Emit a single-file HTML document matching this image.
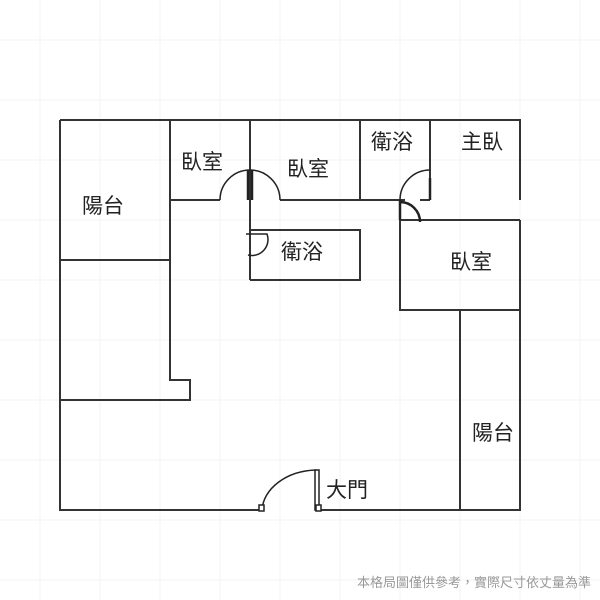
<!DOCTYPE html>
<html><head><meta charset="utf-8"><style>
body{margin:0;background:#fff}
svg{display:block}
text{font-family:"Liberation Sans","Noto Sans CJK TC",sans-serif;fill:#222}
</style></head><body>
<svg width="600" height="600" viewBox="0 0 600 600">
<g stroke="#f3f3f3" stroke-width="1">
<path d="M0 40H600M0 100H600M0 160H600M0 220H600M0 280H600M0 340H600M0 400H600M0 460H600M0 520H600M0 580H600"/>
<path d="M40 0V600M100 0V600M160 0V600M220 0V600M280 0V600M340 0V600M400 0V600M460 0V600M520 0V600M580 0V600"/>
</g>
<g stroke="#333" stroke-width="2" fill="none">
<path d="M60 120H520V200M520 220V510H320M262 510H60V120"/>
<path d="M60 260H170M170 120V380H190V400H60"/>
<path d="M170 200H220M280 200H405M420 200H430"/>
<path d="M250 120V280M250 230H360V280H250"/>
<path d="M360 120V200M430 120V200"/>
<path d="M400 200V310H520M400 220H520"/>
<path d="M460 310V510"/>
</g>
<g stroke="#222" stroke-width="1.5" fill="none">
<path d="M220 200A30 30 0 0 1 250 170M280 200A30 30 0 0 0 250 170"/>
<path d="M248 170V200M252 170V200" stroke-width="2.5"/>
<path d="M400 200A30 30 0 0 1 430 170"/>
<path d="M430 178V200" stroke-width="2.5"/>
<path d="M400 200V220M400 202A20 20 0 0 1 420 222" stroke-width="2.5"/>
<path d="M246 234H267A16 16 0 0 1 248 255"/>
<path d="M262 510A56 42 0 0 1 316 470"/>
<rect x="315" y="470" width="4" height="40" fill="#fff"/>
<rect x="259" y="505" width="5" height="6" fill="#fff"/>
<rect x="316" y="505" width="5" height="6" fill="#fff"/>
</g>
<g font-size="21">
<text x="82" y="213">陽台</text>
<text x="181" y="169">臥室</text>
<text x="287" y="176">臥室</text>
<text x="371" y="149">衛浴</text>
<text x="461" y="149">主臥</text>
<text x="281" y="259">衛浴</text>
<text x="450" y="269">臥室</text>
<text x="472" y="440">陽台</text>
<text x="326" y="497">大門</text>
</g>
<text x="591" y="587" font-size="13" text-anchor="end" style="fill:#999">本格局圖僅供參考，實際尺寸依丈量為準</text>
</svg>
</body></html>
